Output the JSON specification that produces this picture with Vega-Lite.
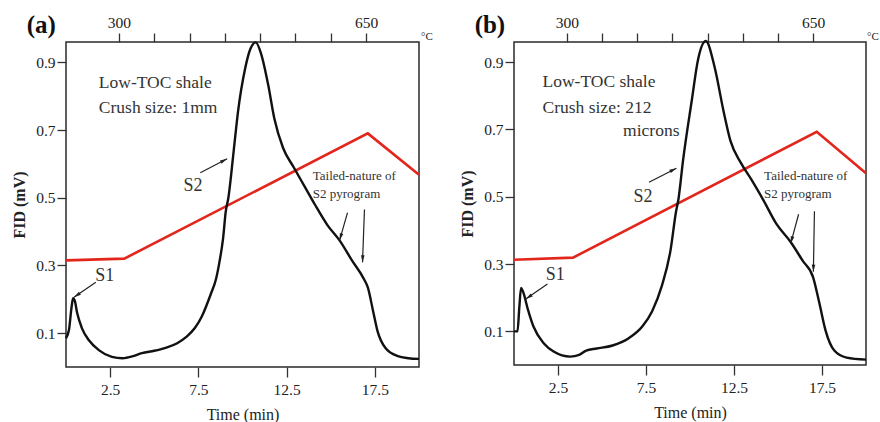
{
  "$schema": "https://vega.github.io/schema/vega-lite/v6.json",
  "padding": {"left": 10, "top": 12, "right": 0, "bottom": 0},
  "spacing": 24,
  "config": {
    "view": {"stroke": "#2a2a2a", "strokeWidth": 1.5},
    "font": "Liberation Serif",
    "text": {"font": "Liberation Serif"},
    "axis": {"labelFont": "Liberation Serif", "titleFont": "Liberation Serif", "labelColor": "#222", "titleColor": "#222", "tickColor": "#333", "domain": false, "grid": false, "labelFontSize": 15.5, "tickWidth": 1.3}
  },
  "datasets": {
    "curves": [
      {"panel": "a", "series": "temp", "t": 0, "v": 0.315},
      {"panel": "a", "series": "temp", "t": 3.3, "v": 0.32},
      {"panel": "a", "series": "temp", "t": 17.1, "v": 0.69},
      {"panel": "a", "series": "temp", "t": 20, "v": 0.568},
      {"panel": "a", "series": "fid", "t": 0, "v": 0.085},
      {"panel": "a", "series": "fid", "t": 0.17, "v": 0.11},
      {"panel": "a", "series": "fid", "t": 0.3, "v": 0.17},
      {"panel": "a", "series": "fid", "t": 0.4, "v": 0.203},
      {"panel": "a", "series": "fid", "t": 0.5, "v": 0.195},
      {"panel": "a", "series": "fid", "t": 0.63, "v": 0.16},
      {"panel": "a", "series": "fid", "t": 0.9, "v": 0.115},
      {"panel": "a", "series": "fid", "t": 1.3, "v": 0.079},
      {"panel": "a", "series": "fid", "t": 1.86, "v": 0.05},
      {"panel": "a", "series": "fid", "t": 2.6, "v": 0.03},
      {"panel": "a", "series": "fid", "t": 3.2, "v": 0.026},
      {"panel": "a", "series": "fid", "t": 3.8, "v": 0.032},
      {"panel": "a", "series": "fid", "t": 4.3, "v": 0.041},
      {"panel": "a", "series": "fid", "t": 5.0, "v": 0.048},
      {"panel": "a", "series": "fid", "t": 5.6, "v": 0.056},
      {"panel": "a", "series": "fid", "t": 6.3, "v": 0.07},
      {"panel": "a", "series": "fid", "t": 6.8, "v": 0.088},
      {"panel": "a", "series": "fid", "t": 7.3, "v": 0.115},
      {"panel": "a", "series": "fid", "t": 7.7, "v": 0.15},
      {"panel": "a", "series": "fid", "t": 8.2, "v": 0.215},
      {"panel": "a", "series": "fid", "t": 8.5, "v": 0.26},
      {"panel": "a", "series": "fid", "t": 8.7, "v": 0.312},
      {"panel": "a", "series": "fid", "t": 8.9, "v": 0.38},
      {"panel": "a", "series": "fid", "t": 9.05, "v": 0.459},
      {"panel": "a", "series": "fid", "t": 9.2, "v": 0.5},
      {"panel": "a", "series": "fid", "t": 9.5, "v": 0.638},
      {"panel": "a", "series": "fid", "t": 9.75, "v": 0.756},
      {"panel": "a", "series": "fid", "t": 10.15, "v": 0.882},
      {"panel": "a", "series": "fid", "t": 10.45, "v": 0.94},
      {"panel": "a", "series": "fid", "t": 10.75, "v": 0.959},
      {"panel": "a", "series": "fid", "t": 11.05, "v": 0.926},
      {"panel": "a", "series": "fid", "t": 11.45, "v": 0.835},
      {"panel": "a", "series": "fid", "t": 11.8, "v": 0.735},
      {"panel": "a", "series": "fid", "t": 12.3, "v": 0.647},
      {"panel": "a", "series": "fid", "t": 12.9, "v": 0.59},
      {"panel": "a", "series": "fid", "t": 13.5, "v": 0.535},
      {"panel": "a", "series": "fid", "t": 14.1, "v": 0.48},
      {"panel": "a", "series": "fid", "t": 14.8, "v": 0.42},
      {"panel": "a", "series": "fid", "t": 15.5, "v": 0.374},
      {"panel": "a", "series": "fid", "t": 16.2, "v": 0.315},
      {"panel": "a", "series": "fid", "t": 16.9, "v": 0.258},
      {"panel": "a", "series": "fid", "t": 17.1, "v": 0.235},
      {"panel": "a", "series": "fid", "t": 17.4, "v": 0.165},
      {"panel": "a", "series": "fid", "t": 17.65, "v": 0.106},
      {"panel": "a", "series": "fid", "t": 18.1, "v": 0.056},
      {"panel": "a", "series": "fid", "t": 18.8, "v": 0.032},
      {"panel": "a", "series": "fid", "t": 19.4, "v": 0.026},
      {"panel": "a", "series": "fid", "t": 20, "v": 0.024},
      {"panel": "b", "series": "temp", "t": 0, "v": 0.313},
      {"panel": "b", "series": "temp", "t": 3.35, "v": 0.319},
      {"panel": "b", "series": "temp", "t": 17.2, "v": 0.693},
      {"panel": "b", "series": "temp", "t": 20, "v": 0.57},
      {"panel": "b", "series": "fid", "t": 0, "v": 0.1},
      {"panel": "b", "series": "fid", "t": 0.2, "v": 0.1},
      {"panel": "b", "series": "fid", "t": 0.3, "v": 0.17},
      {"panel": "b", "series": "fid", "t": 0.4, "v": 0.229},
      {"panel": "b", "series": "fid", "t": 0.5, "v": 0.22},
      {"panel": "b", "series": "fid", "t": 0.8, "v": 0.163},
      {"panel": "b", "series": "fid", "t": 1.1, "v": 0.115},
      {"panel": "b", "series": "fid", "t": 1.7, "v": 0.064},
      {"panel": "b", "series": "fid", "t": 2.25, "v": 0.04},
      {"panel": "b", "series": "fid", "t": 3.2, "v": 0.025},
      {"panel": "b", "series": "fid", "t": 3.7, "v": 0.03},
      {"panel": "b", "series": "fid", "t": 4.1, "v": 0.043},
      {"panel": "b", "series": "fid", "t": 4.7, "v": 0.049},
      {"panel": "b", "series": "fid", "t": 5.6, "v": 0.058},
      {"panel": "b", "series": "fid", "t": 6.5, "v": 0.079},
      {"panel": "b", "series": "fid", "t": 7.3, "v": 0.115},
      {"panel": "b", "series": "fid", "t": 7.85, "v": 0.16},
      {"panel": "b", "series": "fid", "t": 8.4, "v": 0.235},
      {"panel": "b", "series": "fid", "t": 8.9, "v": 0.343},
      {"panel": "b", "series": "fid", "t": 9.2, "v": 0.454},
      {"panel": "b", "series": "fid", "t": 9.35, "v": 0.495},
      {"panel": "b", "series": "fid", "t": 9.6, "v": 0.606},
      {"panel": "b", "series": "fid", "t": 10.1, "v": 0.786},
      {"panel": "b", "series": "fid", "t": 10.45, "v": 0.906},
      {"panel": "b", "series": "fid", "t": 10.9, "v": 0.963},
      {"panel": "b", "series": "fid", "t": 11.4, "v": 0.885},
      {"panel": "b", "series": "fid", "t": 11.9, "v": 0.756},
      {"panel": "b", "series": "fid", "t": 12.3, "v": 0.666},
      {"panel": "b", "series": "fid", "t": 12.9, "v": 0.6},
      {"panel": "b", "series": "fid", "t": 13.5, "v": 0.55},
      {"panel": "b", "series": "fid", "t": 14.2, "v": 0.487},
      {"panel": "b", "series": "fid", "t": 14.9, "v": 0.42},
      {"panel": "b", "series": "fid", "t": 15.7, "v": 0.367},
      {"panel": "b", "series": "fid", "t": 16.4, "v": 0.31},
      {"panel": "b", "series": "fid", "t": 17.0, "v": 0.26},
      {"panel": "b", "series": "fid", "t": 17.35, "v": 0.184},
      {"panel": "b", "series": "fid", "t": 17.7, "v": 0.103},
      {"panel": "b", "series": "fid", "t": 18.2, "v": 0.043},
      {"panel": "b", "series": "fid", "t": 18.9, "v": 0.022},
      {"panel": "b", "series": "fid", "t": 20, "v": 0.016}
    ],
    "labels": [
      {"panel": "a", "group": "note", "t": 1.86, "v": 0.838, "text": "Low-TOC shale"},
      {"panel": "a", "group": "note", "t": 1.86, "v": 0.765, "text": "Crush size: 1mm"},
      {"panel": "a", "group": "peak", "t": 7.2, "v": 0.535, "text": "S2"},
      {"panel": "a", "group": "peak", "t": 2.2, "v": 0.27, "text": "S1"},
      {"panel": "a", "group": "tail", "t": 13.98, "v": 0.565, "text": "Tailed-nature of"},
      {"panel": "a", "group": "tail", "t": 13.98, "v": 0.512, "text": "S2 pyrogram"},
      {"panel": "b", "group": "note", "t": 1.62, "v": 0.84, "text": "Low-TOC shale"},
      {"panel": "b", "group": "note", "t": 1.62, "v": 0.765, "text": "Crush size: 212"},
      {"panel": "b", "group": "note", "t": 6.2, "v": 0.696, "text": "microns"},
      {"panel": "b", "group": "peak", "t": 7.33, "v": 0.5, "text": "S2"},
      {"panel": "b", "group": "peak", "t": 2.35, "v": 0.268, "text": "S1"},
      {"panel": "b", "group": "tail", "t": 14.21, "v": 0.561, "text": "Tailed-nature of"},
      {"panel": "b", "group": "tail", "t": 14.21, "v": 0.507, "text": "S2 pyrogram"}
    ],
    "arrows": [
      {"panel": "a", "t": 7.61, "v": 0.574, "t2": 9.13, "v2": 0.615},
      {"panel": "a", "t": 1.69, "v": 0.25, "t2": 0.45, "v2": 0.206},
      {"panel": "a", "t": 15.95, "v": 0.456, "t2": 15.5, "v2": 0.374},
      {"panel": "a", "t": 16.91, "v": 0.465, "t2": 16.8, "v2": 0.309},
      {"panel": "b", "t": 7.67, "v": 0.543, "t2": 9.23, "v2": 0.585},
      {"panel": "b", "t": 1.9, "v": 0.241, "t2": 0.67, "v2": 0.196},
      {"panel": "b", "t": 16.17, "v": 0.448, "t2": 15.72, "v2": 0.361},
      {"panel": "b", "t": 17.07, "v": 0.457, "t2": 17.01, "v2": 0.277}
    ],
    "units": [
      {"temp": 725, "v": 0.96, "text": "°C"}
    ]
  },
  "hconcat": [
    {
      "width": 353,
      "height": 325,
      "title": {"text": "(a)", "anchor": "start", "frame": "bounds", "fontSize": 25, "fontWeight": "bold", "font": "Liberation Serif", "color": "#111", "dx": 15, "dy": 23, "offset": 0},
      "layer": [
        {
          "encoding": {
            "x": {"field": "t", "type": "quantitative", "scale": {"domain": [0, 20], "nice": false, "zero": false}, "axis": {"orient": "bottom", "values": [2.5, 7.5, 12.5, 17.5], "format": ".1f", "title": "Time (min)", "titleFontSize": 16, "titleFontWeight": "normal", "tickSize": 10, "labelPadding": 5, "titlePadding": 9}},
            "y": {"field": "v", "type": "quantitative", "scale": {"domain": [0, 0.96], "nice": false}, "axis": {"values": [0.1, 0.3, 0.5, 0.7, 0.9], "format": ".1f", "title": "FID (mV)", "titleFontSize": 16, "titleFontWeight": "bold", "tickSize": 9, "labelPadding": 2, "titlePadding": 8}}
          },
          "layer": [
            {"data": {"name": "curves"}, "transform": [{"filter": "datum.panel == 'a' && datum.series == 'temp'"}], "mark": {"type": "line", "color": "#e3261c", "strokeWidth": 2.6}},
            {"data": {"name": "curves"}, "transform": [{"filter": "datum.panel == 'a' && datum.series == 'fid'"}], "mark": {"type": "line", "color": "#111", "strokeWidth": 2.4, "interpolate": "monotone"}},
            {"data": {"name": "labels"}, "transform": [{"filter": "datum.panel == 'a' && datum.group == 'note'"}], "mark": {"type": "text", "font": "Liberation Serif", "align": "left", "baseline": "middle", "fontSize": 17.5, "color": "#333"}, "encoding": {"text": {"field": "text"}}},
            {"data": {"name": "labels"}, "transform": [{"filter": "datum.panel == 'a' && datum.group == 'peak'"}], "mark": {"type": "text", "font": "Liberation Serif", "align": "center", "baseline": "middle", "fontSize": 18, "color": "#333"}, "encoding": {"text": {"field": "text"}}},
            {"data": {"name": "labels"}, "transform": [{"filter": "datum.panel == 'a' && datum.group == 'tail'"}], "mark": {"type": "text", "font": "Liberation Serif", "align": "left", "baseline": "middle", "fontSize": 13, "color": "#333"}, "encoding": {"text": {"field": "text"}}},
            {"data": {"name": "arrows"}, "transform": [{"filter": "datum.panel == 'a'"}], "mark": {"type": "rule", "color": "#222", "strokeWidth": 1.2}, "encoding": {"x2": {"field": "t2"}, "y2": {"field": "v2"}}},
            {"data": {"name": "arrows"}, "transform": [{"filter": "datum.panel == 'a'"}, {"calculate": "atan2((datum.t2 - datum.t) * 17.7, (datum.v2 - datum.v) * 339) * 180 / PI", "as": "angle"}], "mark": {"type": "point", "shape": "M0,0L0.45,1.8L-0.45,1.8Z", "filled": true, "color": "#222", "size": 64, "opacity": 1}, "encoding": {"x": {"field": "t2", "type": "quantitative", "title": "Time (min)"}, "y": {"field": "v2", "type": "quantitative", "title": "FID (mV)"}, "angle": {"field": "angle", "type": "quantitative", "scale": null}}}
          ]
        },
        {
          "data": {"name": "units"},
          "mark": {"type": "text", "font": "Liberation Serif", "align": "left", "baseline": "middle", "dx": 2, "dy": -5, "fontSize": 11, "color": "#222"},
          "encoding": {
            "x": {"field": "temp", "type": "quantitative", "scale": {"domain": [225, 725], "nice": false, "zero": false}, "axis": {"orient": "top", "values": [300, 350, 400, 450, 500, 550, 600, 650], "labelExpr": "datum.value == 300 || datum.value == 650 ? datum.label : ''", "title": null, "tickSize": 9, "labelPadding": 3}},
            "y": {"field": "v", "type": "quantitative", "title": "FID (mV)"},
            "text": {"field": "text"}
          }
        }
      ],
      "resolve": {"scale": {"x": "independent"}, "axis": {"x": "independent"}}
    },
    {
      "width": 352,
      "height": 323,
      "title": {"text": "(b)", "anchor": "start", "frame": "bounds", "fontSize": 25, "fontWeight": "bold", "font": "Liberation Serif", "color": "#111", "dx": 15, "dy": 23, "offset": 0},
      "layer": [
        {
          "encoding": {
            "x": {"field": "t", "type": "quantitative", "scale": {"domain": [0, 20], "nice": false, "zero": false}, "axis": {"orient": "bottom", "values": [2.5, 7.5, 12.5, 17.5], "format": ".1f", "title": "Time (min)", "titleFontSize": 16, "titleFontWeight": "normal", "tickSize": 10, "labelPadding": 5, "titlePadding": 9}},
            "y": {"field": "v", "type": "quantitative", "scale": {"domain": [0, 0.96], "nice": false}, "axis": {"values": [0.1, 0.3, 0.5, 0.7, 0.9], "format": ".1f", "title": "FID (mV)", "titleFontSize": 16, "titleFontWeight": "bold", "tickSize": 9, "labelPadding": 2, "titlePadding": 8}}
          },
          "layer": [
            {"data": {"name": "curves"}, "transform": [{"filter": "datum.panel == 'b' && datum.series == 'temp'"}], "mark": {"type": "line", "color": "#e3261c", "strokeWidth": 2.6}},
            {"data": {"name": "curves"}, "transform": [{"filter": "datum.panel == 'b' && datum.series == 'fid'"}], "mark": {"type": "line", "color": "#111", "strokeWidth": 2.4, "interpolate": "monotone"}},
            {"data": {"name": "labels"}, "transform": [{"filter": "datum.panel == 'b' && datum.group == 'note'"}], "mark": {"type": "text", "font": "Liberation Serif", "align": "left", "baseline": "middle", "fontSize": 17.5, "color": "#333"}, "encoding": {"text": {"field": "text"}}},
            {"data": {"name": "labels"}, "transform": [{"filter": "datum.panel == 'b' && datum.group == 'peak'"}], "mark": {"type": "text", "font": "Liberation Serif", "align": "center", "baseline": "middle", "fontSize": 18, "color": "#333"}, "encoding": {"text": {"field": "text"}}},
            {"data": {"name": "labels"}, "transform": [{"filter": "datum.panel == 'b' && datum.group == 'tail'"}], "mark": {"type": "text", "font": "Liberation Serif", "align": "left", "baseline": "middle", "fontSize": 13, "color": "#333"}, "encoding": {"text": {"field": "text"}}},
            {"data": {"name": "arrows"}, "transform": [{"filter": "datum.panel == 'b'"}], "mark": {"type": "rule", "color": "#222", "strokeWidth": 1.2}, "encoding": {"x2": {"field": "t2"}, "y2": {"field": "v2"}}},
            {"data": {"name": "arrows"}, "transform": [{"filter": "datum.panel == 'b'"}, {"calculate": "atan2((datum.t2 - datum.t) * 17.6, (datum.v2 - datum.v) * 336) * 180 / PI", "as": "angle"}], "mark": {"type": "point", "shape": "M0,0L0.45,1.8L-0.45,1.8Z", "filled": true, "color": "#222", "size": 64, "opacity": 1}, "encoding": {"x": {"field": "t2", "type": "quantitative", "title": "Time (min)"}, "y": {"field": "v2", "type": "quantitative", "title": "FID (mV)"}, "angle": {"field": "angle", "type": "quantitative", "scale": null}}}
          ]
        },
        {
          "data": {"name": "units"},
          "mark": {"type": "text", "font": "Liberation Serif", "align": "left", "baseline": "middle", "dx": 1, "dy": -5, "fontSize": 11, "color": "#222"},
          "encoding": {
            "x": {"field": "temp", "type": "quantitative", "scale": {"domain": [225, 725], "nice": false, "zero": false}, "axis": {"orient": "top", "values": [300, 350, 400, 450, 500, 550, 600, 650], "labelExpr": "datum.value == 300 || datum.value == 650 ? datum.label : ''", "title": null, "tickSize": 9, "labelPadding": 3}},
            "y": {"field": "v", "type": "quantitative", "title": "FID (mV)"},
            "text": {"field": "text"}
          }
        }
      ],
      "resolve": {"scale": {"x": "independent"}, "axis": {"x": "independent"}}
    }
  ]
}
